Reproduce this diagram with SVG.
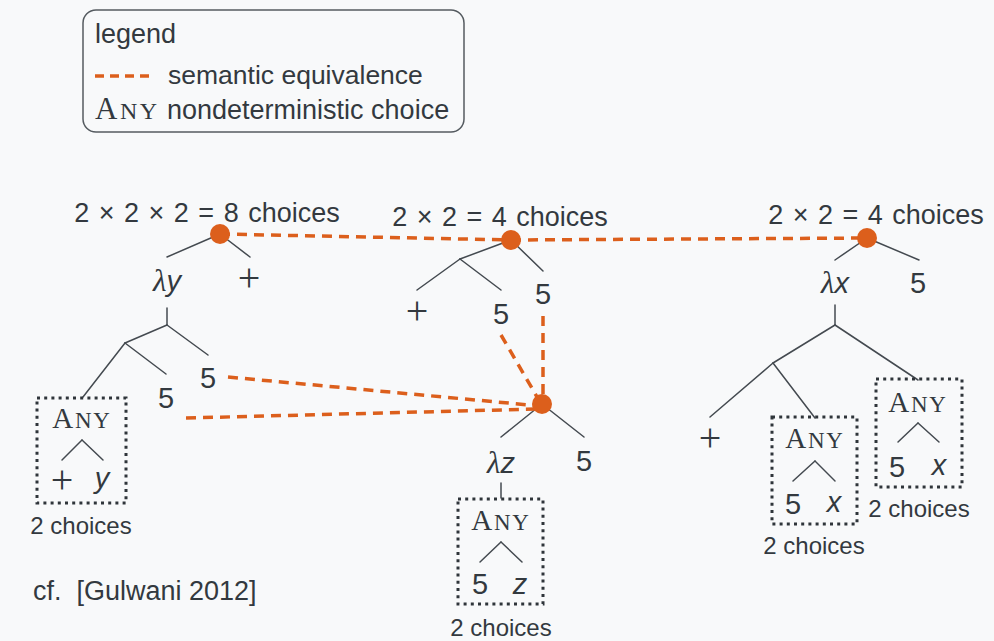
<svg xmlns="http://www.w3.org/2000/svg" width="994" height="641" viewBox="0 0 994 641">
<defs>
<style>
.bg{fill:#f8f9fa}
.t{font-family:"Liberation Sans",Arial,sans-serif;fill:#33393f}
.lbl{font-size:27px;word-spacing:2px}
.n{font-size:29px;text-anchor:middle}
.it{font-style:italic}
.lam{font-family:"Liberation Serif","Times New Roman",serif;font-style:italic;font-size:31px}
.plus{font-family:"Liberation Serif","Times New Roman",serif;font-size:40px;text-anchor:middle;fill:#33393f}
.sc{font-family:"Liberation Serif","Times New Roman",serif;fill:#33393f;text-anchor:middle;letter-spacing:1.8px}
.edge{stroke:#444a50;stroke-width:1.5;fill:none;stroke-linecap:round}
.eq{stroke:#dc5f1c;stroke-width:3.5;stroke-dasharray:10 7;fill:none}
.dot{fill:#dc5f1c}
.box{fill:none;stroke:#2f353a;stroke-width:3;stroke-dasharray:3 4.2}
.ch{font-size:24px;text-anchor:middle}
</style>
</defs>
<rect class="bg" x="0" y="0" width="994" height="641"/>

<g id="legend">
<rect x="83" y="10" width="381" height="122" rx="13" fill="none" stroke="#555b60" stroke-width="1.5"/>
<text class="t" x="95" y="43" font-size="27">legend</text>
<line x1="95" y1="76" x2="150" y2="76" stroke="#dc5f1c" stroke-width="3.5" stroke-dasharray="9 6"/>
<text class="t" x="168" y="84" font-size="26.5">semantic equivalence</text>
<text x="95" y="119" font-family="Liberation Serif, serif" fill="#33393f" letter-spacing="2.5"><tspan font-size="31">A</tspan><tspan font-size="24">NY</tspan></text>
<text class="t" x="167" y="119" font-size="27">nondeterministic choice</text>
</g>

<g id="connectors">
<line class="edge" x1="220" y1="234" x2="167" y2="257"/>
<line class="edge" x1="220" y1="234" x2="250" y2="257"/>
<line class="edge" x1="167" y1="308" x2="167" y2="325"/>
<line class="edge" x1="167" y1="325" x2="125" y2="343"/>
<line class="edge" x1="167" y1="325" x2="208" y2="355"/>
<line class="edge" x1="125" y1="343" x2="83" y2="397"/>
<line class="edge" x1="125" y1="343" x2="166" y2="374"/>
<line class="edge" x1="62" y1="460" x2="82" y2="440"/>
<line class="edge" x1="82" y1="440" x2="103" y2="460"/>
<line class="edge" x1="511" y1="240" x2="460" y2="259"/>
<line class="edge" x1="511" y1="240" x2="543" y2="271"/>
<line class="edge" x1="460" y1="259" x2="417" y2="290"/>
<line class="edge" x1="460" y1="259" x2="501" y2="290"/>
<line class="edge" x1="542" y1="404" x2="501" y2="437"/>
<line class="edge" x1="542" y1="404" x2="584" y2="437"/>
<line class="edge" x1="501" y1="483" x2="501" y2="498"/>
<line class="edge" x1="480" y1="562" x2="501" y2="542"/>
<line class="edge" x1="501" y1="542" x2="522" y2="562"/>
<line class="edge" x1="867" y1="238" x2="835" y2="260"/>
<line class="edge" x1="867" y1="238" x2="919" y2="260"/>
<line class="edge" x1="835" y1="305" x2="835" y2="325"/>
<line class="edge" x1="835" y1="325" x2="773" y2="363"/>
<line class="edge" x1="835" y1="325" x2="918" y2="380"/>
<line class="edge" x1="773" y1="363" x2="710" y2="417"/>
<line class="edge" x1="773" y1="363" x2="815" y2="418"/>
<line class="edge" x1="793" y1="481" x2="815" y2="461"/>
<line class="edge" x1="815" y1="461" x2="835" y2="481"/>
<line class="edge" x1="898" y1="442" x2="918" y2="423"/>
<line class="edge" x1="918" y1="423" x2="939" y2="442"/>
</g>

<g id="equivalences">
<line class="eq" x1="220" y1="234" x2="511" y2="240"/>
<line class="eq" x1="511" y1="240" x2="867" y2="238"/>
<line class="eq" x1="543" y1="316" x2="543" y2="404"/>
<line class="eq" x1="501" y1="335" x2="540" y2="402"/>
<line class="eq" x1="228" y1="377" x2="540" y2="406"/>
<line class="eq" x1="186" y1="418" x2="538" y2="409"/>
</g>

<g id="tree1">
<text class="t lbl" x="207" y="222" text-anchor="middle">2 × 2 × 2 = 8 choices</text>
<circle class="dot" cx="220" cy="234" r="10"/>
<text class="t n" x="167" y="291"><tspan class="lam">λ</tspan><tspan class="it">y</tspan></text>
<text class="plus" x="249" y="291">+</text>
<text class="t n" x="208" y="388">5</text>
<text class="t n" x="166" y="408">5</text>
<g id="any1">
<rect class="box" x="37" y="398" width="89" height="105"/>
<text class="sc" x="82" y="428"><tspan font-size="29">A</tspan><tspan font-size="23">NY</tspan></text>
<text class="plus" x="62" y="493">+</text>
<text class="t n it" x="102" y="488">y</text>
<text class="t ch" x="81" y="534">2 choices</text>
</g>
</g>

<g id="tree2">
<text class="t lbl" x="500" y="226" text-anchor="middle">2 × 2 = 4 choices</text>
<circle class="dot" cx="511" cy="240" r="10"/>
<text class="plus" x="417" y="324">+</text>
<text class="t n" x="501" y="324">5</text>
<text class="t n" x="543" y="304">5</text>
</g>

<g id="tree2b">
<circle class="dot" cx="542" cy="404" r="10"/>
<text class="t n" x="501" y="473"><tspan class="lam">λ</tspan><tspan class="it">z</tspan></text>
<text class="t n" x="584" y="471">5</text>
<g id="any2">
<rect class="box" x="458" y="499" width="85" height="105"/>
<text class="sc" x="501" y="530"><tspan font-size="29">A</tspan><tspan font-size="23">NY</tspan></text>
<text class="t n" x="480" y="594">5</text>
<text class="t n it" x="520" y="594">z</text>
<text class="t ch" x="501" y="636">2 choices</text>
</g>
</g>

<g id="tree3">
<text class="t lbl" x="876" y="224" text-anchor="middle">2 × 2 = 4 choices</text>
<circle class="dot" cx="867" cy="238" r="10"/>
<text class="t n" x="835" y="293"><tspan class="lam">λ</tspan><tspan class="it">x</tspan></text>
<text class="t n" x="918" y="293">5</text>
<text class="plus" x="710" y="451">+</text>
<g id="any3">
<rect class="box" x="772" y="417" width="85" height="107"/>
<text class="sc" x="815" y="448"><tspan font-size="29">A</tspan><tspan font-size="23">NY</tspan></text>
<text class="t n" x="793" y="514">5</text>
<text class="t n it" x="834" y="512">x</text>
<text class="t ch" x="814" y="554">2 choices</text>
</g>
<g id="any4">
<rect class="box" x="876" y="379" width="86" height="108"/>
<text class="sc" x="918" y="412"><tspan font-size="29">A</tspan><tspan font-size="23">NY</tspan></text>
<text class="t n" x="897" y="477">5</text>
<text class="t n it" x="939" y="475">x</text>
<text class="t ch" x="919" y="517">2 choices</text>
</g>
</g>

<g id="citation">
<text class="t" x="33" y="600" font-size="27" xml:space="preserve">cf.  [Gulwani 2012]</text>
</g>
</svg>
